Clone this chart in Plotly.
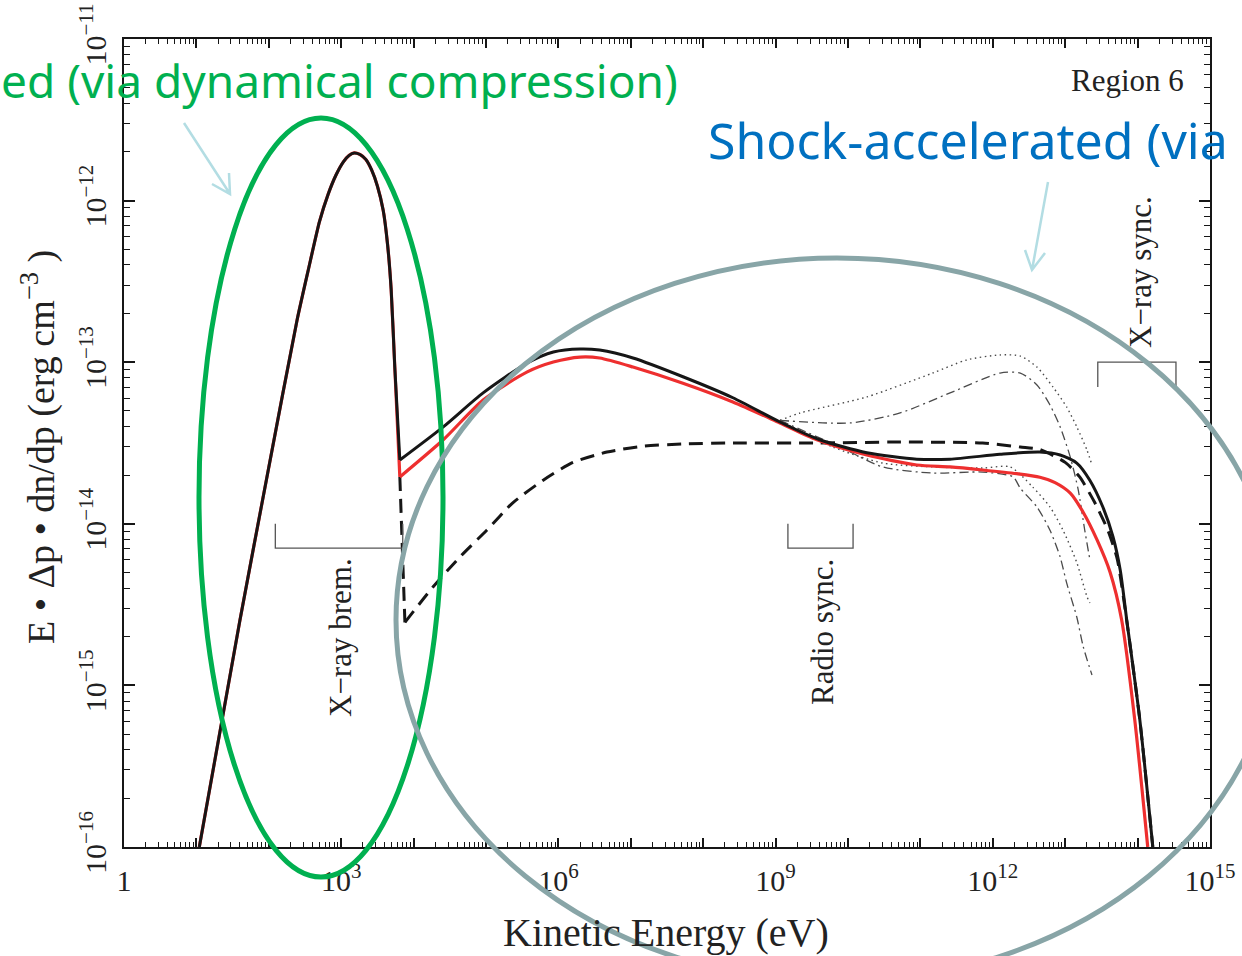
import plotly.graph_objects as go

# ---- spectra, given as log10(kinetic energy / eV) and log10(E dp dn/dp / erg cm^-3) ----
# thermal hump shared by the full and partial spectra
thermal_loge = [1.04, 1.60, 2.00, 2.39, 2.55, 2.70, 2.82, 2.93, 3.03, 3.11, 3.18, 3.26, 3.34,
                3.42, 3.50, 3.58, 3.64, 3.69, 3.74]
thermal_logf = [-16.0, -14.6, -13.65, -12.74, -12.42, -12.13, -11.96, -11.84, -11.76, -11.72,
                -11.705, -11.715, -11.745, -11.81, -11.91, -12.06, -12.27, -12.55, -13.03]

# total spectrum (black) above the thermal hump
total_loge = [3.81, 4.41, 4.96, 5.57, 5.93, 6.30, 6.57, 7.03, 7.72, 8.41, 9.06, 9.61, 10.26, 10.95,
              11.41, 12.10, 12.65, 12.93, 13.16, 13.34, 13.52, 13.66, 13.76, 13.85, 14.03, 14.21]
total_logf = [-13.605, -13.40, -13.19, -13.005, -12.937, -12.918, -12.925, -12.974, -13.09, -13.22,
              -13.37, -13.48, -13.56, -13.60, -13.60, -13.57, -13.556, -13.574, -13.624, -13.73,
              -13.896, -14.08, -14.286, -14.595, -15.21, -16.0]

# red spectrum above the thermal hump
red_loge = [3.81, 4.41, 4.96, 5.57, 5.93, 6.30, 6.57, 7.03, 7.72, 8.41, 9.06, 9.57, 10.26, 10.95,
            11.41, 11.86, 12.33, 12.65, 12.86, 13.07, 13.25, 13.44, 13.62, 13.78, 13.96, 14.14]
red_logf = [-13.71, -13.48, -13.234, -13.06, -12.999, -12.968, -12.974, -13.03, -13.13, -13.246,
            -13.376, -13.48, -13.574, -13.636, -13.648, -13.667, -13.69, -13.712, -13.745, -13.81,
            -13.93, -14.10, -14.30, -14.595, -15.21, -16.0]

# dashed spectrum
dashed_loge = [3.81, 3.88, 4.27, 4.64, 5.01, 5.37, 5.79, 6.20, 6.67, 7.17, 7.72, 8.41, 9.57, 10.72,
               11.86, 12.38, 12.65, 13.0, 13.2, 13.41, 13.59, 13.72, 13.85, 14.03, 14.21]
dashed_logf = [-13.71, -14.61, -14.39, -14.205, -14.04, -13.87, -13.73, -13.62, -13.556, -13.52,
               -13.506, -13.50, -13.50, -13.494, -13.50, -13.525, -13.54, -13.62, -13.71, -13.87,
               -14.04, -14.22, -14.6, -15.21, -16.0]

# thin variants at high energy
dot_hi_loge = [9.06, 9.34, 10.26, 11.17, 11.64, 12.10, 12.38, 12.61, 12.83, 13.02, 13.16, 13.30, 13.37]
dot_hi_logf = [-13.36, -13.314, -13.215, -13.067, -12.986, -12.955, -12.962, -13.03, -13.153, -13.277,
               -13.40, -13.543, -13.636]
dd_hi_loge = [9.06, 10.03, 10.72, 11.41, 12.10, 12.38, 12.61, 12.79, 12.93, 13.07, 13.18, 13.27, 13.34]
dd_hi_logf = [-13.36, -13.376, -13.314, -13.19, -13.067, -13.067, -13.141, -13.265, -13.40, -13.587,
              -13.79, -14.04, -14.22]
dot_lo_loge = [9.06, 9.79, 10.48, 11.17, 11.86, 12.24, 12.55, 12.79, 12.97, 13.16, 13.30, 13.34]
dot_lo_logf = [-13.36, -13.525, -13.624, -13.648, -13.655, -13.648, -13.772, -13.896, -14.04, -14.24,
               -14.45, -14.49]
dd_lo_loge = [9.06, 9.89, 10.48, 11.17, 11.86, 12.28, 12.38, 12.61, 12.79, 12.93, 13.02, 13.16, 13.25, 13.37]
dd_lo_logf = [-13.36, -13.525, -13.648, -13.686, -13.68, -13.71, -13.78, -13.896, -14.04, -14.205,
              -14.366, -14.577, -14.762, -14.936]

# wave-band brackets: (label, low energy, high energy, bar level, tick end level)
bands = [
    ("X\u2212ray brem.", 2.09, 3.85, -14.15, -14.0),
    ("Radio sync.", 9.17, 10.07, -14.15, -14.0),
    ("X\u2212ray sync.", 13.45, 14.53, -13.0, -13.153),
]

x_decades = list(range(0, 16))
y_decades = list(range(-16, -10))
x_labelled = [0, 3, 6, 9, 12, 15]


def lin(vals):
    return [10 ** v for v in vals]


# ---- figure geometry (pixels) ----
W, H = 1242, 956
L, R, T, B = 124, 1210, 39, 847


def px(x):
    return (x - L) / (R - L)


def py(y):
    return (B - y) / (B - T)


fig = go.Figure()

BLACK = "#161616"
RED = "#ee2f2f"
THIN = "#4a4a4a"


def add_line(xs, ys, color, width, dash="solid", shape="spline", smoothing=0.7):
    fig.add_trace(go.Scatter(
        x=lin(xs), y=lin(ys), mode="lines",
        line=dict(color=color, width=width, dash=dash, shape=shape,
                  smoothing=smoothing if shape == "spline" else None),
        hoverinfo="skip", showlegend=False))


# thin variants
add_line(dot_hi_loge, dot_hi_logf, THIN, 1.4, "1.5px,3.5px")
add_line(dot_lo_loge, dot_lo_logf, THIN, 1.4, "1.5px,3.5px")
add_line(dd_hi_loge, dd_hi_logf, THIN, 1.3, "9px,4px,2px,4px")
add_line(dd_lo_loge, dd_lo_logf, THIN, 1.3, "9px,4px,2px,4px")

# dashed spectrum
add_line(dashed_loge[:2], dashed_logf[:2], BLACK, 3, "14px,8px", shape="linear")
add_line(dashed_loge[1:], dashed_logf[1:], BLACK, 3, "14px,8px", smoothing=0.6)

# red spectrum
add_line(thermal_loge + red_loge[:1], thermal_logf + red_logf[:1], RED, 3.2, smoothing=0.6)
add_line(red_loge, red_logf, RED, 3.2)

# total spectrum
add_line(thermal_loge + total_loge[:1], thermal_logf + total_logf[:1], BLACK, 3, smoothing=0.6)
add_line(total_loge, total_logf, BLACK, 3)

# band brackets
for label, e0, e1, bar, tip in bands:
    fig.add_trace(go.Scatter(
        x=lin([e0, e0, e1, e1]), y=lin([tip, bar, bar, tip]), mode="lines",
        line=dict(color="#555555", width=1.3), hoverinfo="skip", showlegend=False))

# carrier for the unlabelled decade ticks
fig.add_trace(go.Scatter(x=lin([x_decades[0], x_decades[-1]]), y=lin([y_decades[0], y_decades[0]]),
                         xaxis="x2", mode="lines", line=dict(width=0), opacity=0,
                         hoverinfo="skip", showlegend=False))

SERIF = "Liberation Serif, Times New Roman, serif"
TXT = "#222222"

x_text = ["1" if k == 0 else "10<sup>%d</sup>" % k for k in x_labelled]
y_text = ["10<sup>\u2212%d</sup>" % (-k) for k in y_decades]

x_minor = [m * 10 ** k for k in x_decades[:-1] for m in range(2, 10)]
y_minor = [m * 10.0 ** k for k in y_decades[:-1] for m in range(2, 10)]

axis_common = dict(
    type="log", showgrid=False, zeroline=False, showline=True, linecolor=BLACK, linewidth=2,
    mirror="ticks", ticks="inside", tickcolor=BLACK, tickwidth=1.6, automargin=False,
    tickfont=dict(family=SERIF, size=30, color=TXT), tickmode="array",
)

fig.update_layout(
    xaxis=dict(
        range=[0, 15], tickvals=lin(x_labelled), ticktext=x_text, ticklen=9,
        minor=dict(tickmode="array", tickvals=x_minor, ticks="inside", ticklen=5,
                   tickcolor=BLACK, tickwidth=1.2, showgrid=False),
        ticklabelstandoff=6, **axis_common),
    xaxis2=dict(
        type="log", range=[0, 15], overlaying="x", anchor="y", side="bottom",
        tickmode="array", tickvals=lin(x_decades), ticks="inside", ticklen=9,
        tickcolor=BLACK, tickwidth=1.6, showticklabels=False, showgrid=False,
        zeroline=False, showline=False, mirror="ticks", automargin=False),
    yaxis=dict(
        range=[-16, -11], tickvals=lin(y_decades), ticktext=y_text, ticklen=11,
        tickangle=-90,
        minor=dict(tickmode="array", tickvals=y_minor, ticks="inside", ticklen=6,
                   tickcolor=BLACK, tickwidth=1.2, showgrid=False),
        ticklabelstandoff=4, **axis_common),
)

annotations = [
    dict(text="Kinetic Energy (eV)", x=px(666), y=py(932), font=dict(family=SERIF, size=40, color=TXT)),
    dict(text="E \u2022 \u0394p \u2022 dn/dp (erg cm<sup>\u22123</sup> )", x=px(38), y=py(447),
         textangle=-90, font=dict(family=SERIF, size=38, color=TXT)),
    dict(text="Region 6", x=px(1127), y=py(80), font=dict(family=SERIF, size=31, color=TXT)),
    dict(text="X\u2212ray brem.", x=px(340), y=py(638), textangle=-90,
         font=dict(family=SERIF, size=31, color=TXT)),
    dict(text="Radio sync.", x=px(822), y=py(632), textangle=-90,
         font=dict(family=SERIF, size=31, color=TXT)),
    dict(text="X\u2212ray sync.", x=px(1140), y=py(272), textangle=-90,
         font=dict(family=SERIF, size=31, color=TXT)),
    dict(text="ed (via dynamical compression)", x=px(-1), y=py(80), xanchor="left",
         font=dict(family="Comic Sans MS, Noto Sans, sans-serif", size=46, color="#00b050")),
    dict(text="Shock-accelerated (via", x=px(706), y=py(140), xanchor="left",
         font=dict(family="Comic Sans MS, Noto Sans, sans-serif", size=50, color="#0070c0")),
]
for a in annotations:
    a.setdefault("xanchor", "center")
    a.update(xref="paper", yref="paper", yanchor="middle", showarrow=False)
fig.update_layout(annotations=annotations)


def ellipse(cx, cy, rx, ry, color):
    return dict(type="circle", xref="paper", yref="paper", layer="above",
                x0=px(cx - rx), x1=px(cx + rx), y0=py(cy + ry), y1=py(cy - ry),
                line=dict(color=color, width=5))


def arrow(x0, y0, x1, y1, w1, w2):
    p = "M %f,%f L %f,%f M %f,%f L %f,%f L %f,%f" % (
        px(x0), py(y0), px(x1), py(y1),
        px(w1[0]), py(w1[1]), px(x1), py(y1), px(w2[0]), py(w2[1]))
    return dict(type="path", xref="paper", yref="paper", layer="above", path=p,
                line=dict(color="#b3dde3", width=2.5))


fig.update_layout(shapes=[
    ellipse(321, 497.5, 122, 379.5, "#00b050"),
    ellipse(837, 620, 441, 362, "#88a5a7"),
    arrow(184, 123, 230, 194, (212, 184), (229, 173)),
    arrow(1048, 182, 1032, 270, (1025, 250), (1045, 253)),
])

fig.update_layout(
    width=W, height=H, autosize=False,
    margin=dict(l=L, r=W - R, t=T, b=H - B, pad=0),
    paper_bgcolor="white", plot_bgcolor="white",
)

fig.write_html("out.html")
